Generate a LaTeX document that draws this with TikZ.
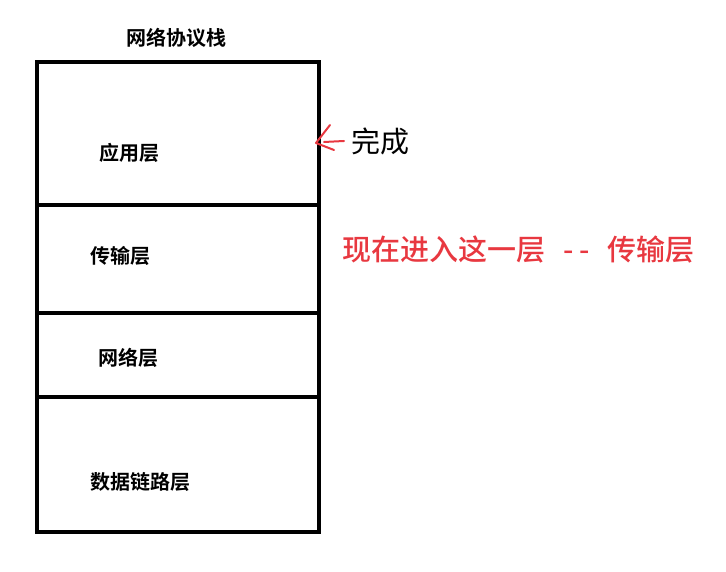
\documentclass[tikz,border=0pt]{standalone}
\usepackage{fontspec}
\newfontfamily\cjk{Noto Sans CJK SC}
\newfontfamily\cjkb{Noto Sans CJK SC Bold}
\newfontfamily\cjkm{Noto Sans CJK SC Medium}
\definecolor{rd}{RGB}{232,56,64}
\begin{document}
\begin{tikzpicture}[x=1pt,y=-1pt,
  lbl/.style={font=\cjkb\fontsize{20}{20}\selectfont, inner sep=0pt},
  big/.style={font=\cjk\fontsize{29}{29}\selectfont, inner sep=0pt},
  frame/.style={line width=3.8pt, draw=black}]
\useasboundingbox (0,0) rectangle (726,572);
\draw[frame] (37,62) rectangle (319,532);
\draw[frame] (37,205) -- (319,205);
\draw[frame] (37,313) -- (319,313);
\draw[frame] (37,397) -- (319,397);
\node[lbl] (title) at (176,38) {网络协议栈};
\node[lbl] (app) at (129,153) {应用层};
\node[lbl] (trans) at (120,256) {传输层};
\node[lbl] (net) at (128,358) {网络层};
\node[lbl] (link) at (140,482) {数据链路层};
\node[big, anchor=west] (done) at (351,141) {完成};
\node[big, font=\cjkm\fontsize{29}{29}\selectfont, anchor=west, text=rd] (now) at (342,250) {现在进入这一层\hspace{18pt}-\hspace{6pt}-\hspace{18pt}传输层};
\draw[rd, line width=2pt, line cap=round, line join=round] (330,125) -- (316,143) -- (334,150);
\draw[rd, line width=2pt, line cap=round] (324,142) -- (344,141);
\end{tikzpicture}
\end{document}
